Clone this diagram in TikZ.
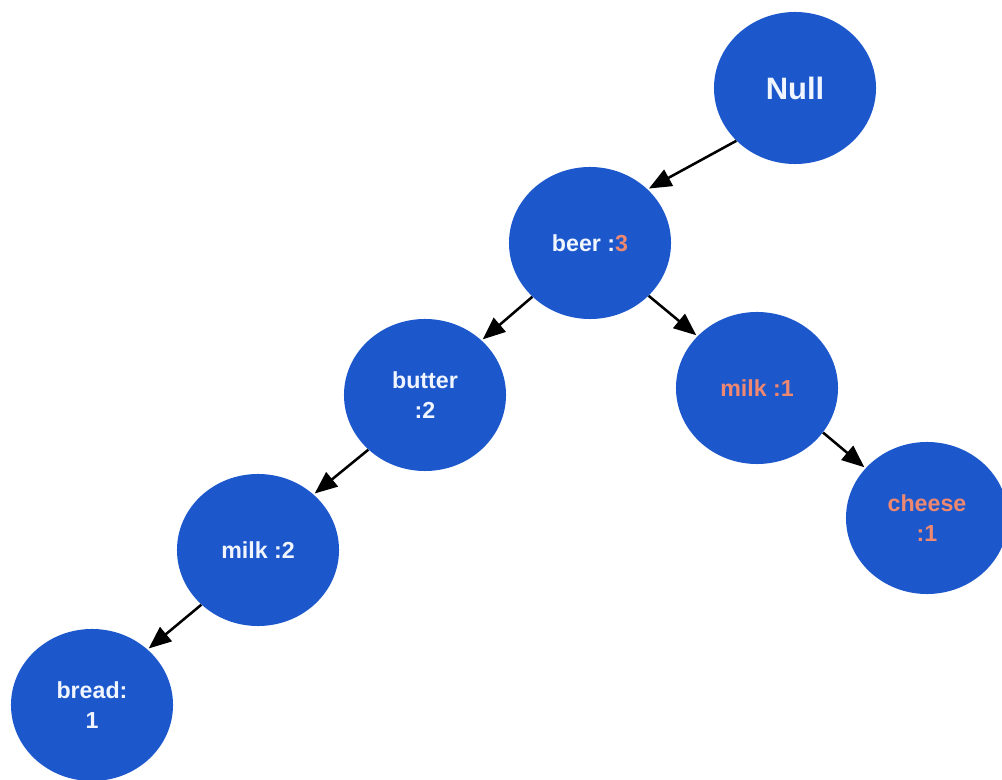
\documentclass[tikz,border=0pt]{standalone}
\usepackage{fontspec}
\setmainfont{Liberation Sans}
\usetikzlibrary{shapes.geometric, arrows.meta}

\definecolor{itemblue}{RGB}{28,88,204}
\definecolor{countred}{RGB}{238,136,112}
\definecolor{itemwhite}{RGB}{240,245,255}

\begin{document}
\begin{tikzpicture}[x=0.025cm, y=-0.025cm,
        item/.style={ellipse, fill=itemblue, minimum width=4.05cm, minimum height=3.8cm,
            inner sep=0pt, text=itemwhite, align=center,
            font=\bfseries\fontsize{16.5}{21}\selectfont},
        link/.style={-{Triangle[length=16pt, width=13pt]}, line width=1.8pt, shorten >=1pt}]
        \useasboundingbox (0,0) rectangle (1002,780);

        % tree nodes
        \node[item, font=\bfseries\fontsize{22}{26}\selectfont] (null) at (795,88) {Null};
        \node[item] (beer) at (590,243) {beer :\textcolor{countred}{3}};
        \node[item] (butter) at (425,395) {butter\\:2};
        \node[item, text=countred] (milkA) at (757,388) {milk :1};
        \node[item] (milkB) at (258,550) {milk :2};
        \node[item, text=countred] (cheese) at (927,518) {cheese\\:1};
        \node[item] (bread) at (92,705) {bread:\\1};

        % edges
        \draw[link] (null.222) -- (beer.43);
        \draw[link] (beer.223) -- (butter.44);
        \draw[link] (beer.318) -- (milkA.139);
        \draw[link] (milkA.326) -- (cheese.141);
        \draw[link] (butter.224) -- (milkB.45);
        \draw[link] (milkB.224) -- (bread.45);
    \end{tikzpicture}
\end{document}
